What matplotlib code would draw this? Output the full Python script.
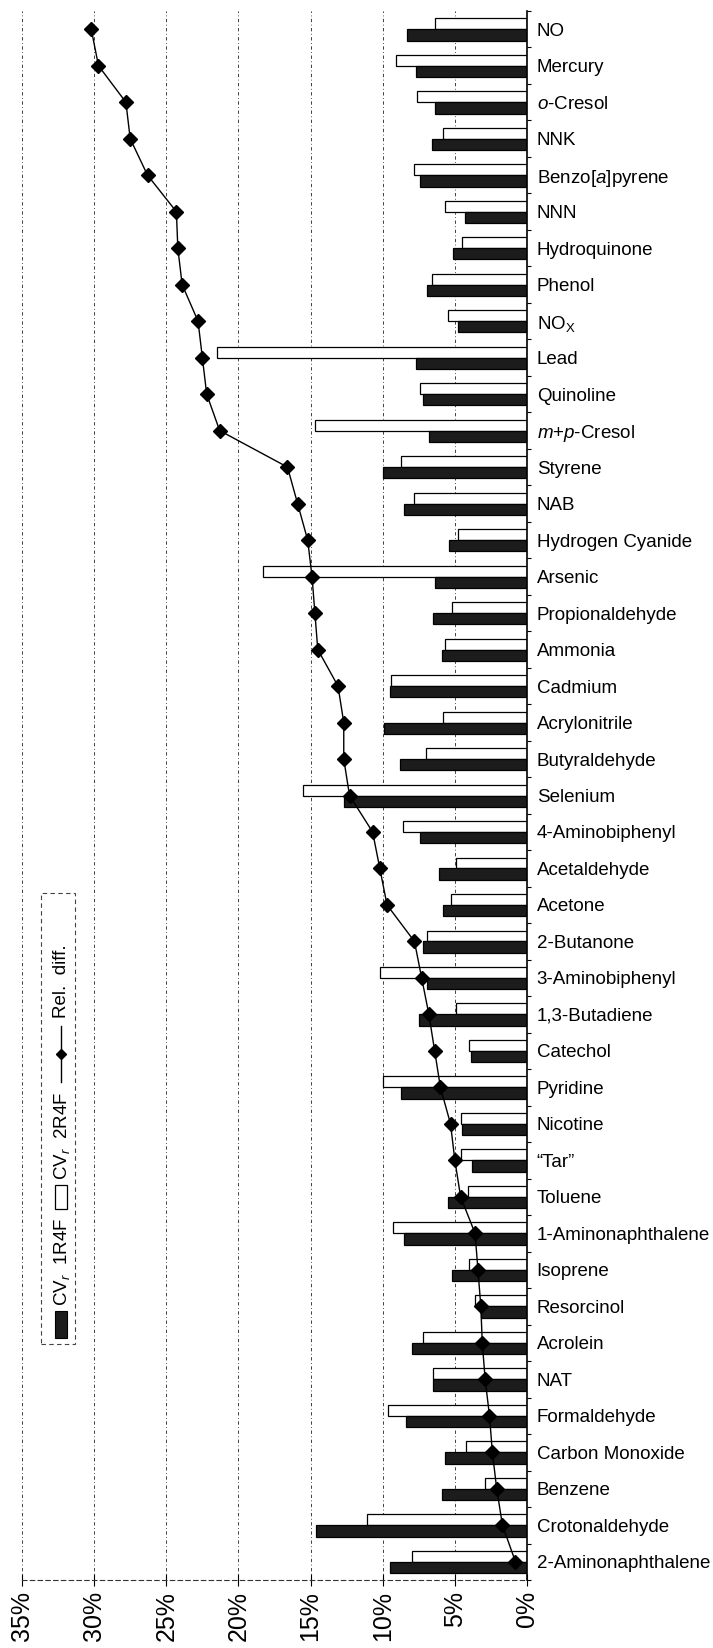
import numpy as np
import matplotlib
matplotlib.use("Agg")
import matplotlib.pyplot as plt
from matplotlib.patches import Rectangle
from matplotlib.lines import Line2D

plt.rcParams['font.family'] = ['Liberation Sans', 'DejaVu Sans']
plt.rcParams['mathtext.fontset'] = 'custom'
plt.rcParams['mathtext.rm'] = 'Liberation Sans'
plt.rcParams['mathtext.it'] = 'Liberation Sans:italic'

# data (percent), top to bottom as in the picture
compounds = ["NO", "Mercury", "$o$-Cresol", "NNK", "Benzo[$a$]pyrene", "NNN",
             "Hydroquinone", "Phenol", "NO$_\\mathrm{X}$", "Lead", "Quinoline",
             "$m$+$p$-Cresol", "Styrene", "NAB", "Hydrogen Cyanide", "Arsenic",
             "Propionaldehyde", "Ammonia", "Cadmium", "Acrylonitrile", "Butyraldehyde",
             "Selenium", "4-Aminobiphenyl", "Acetaldehyde", "Acetone", "2-Butanone",
             "3-Aminobiphenyl", "1,3-Butadiene", "Catechol", "Pyridine", "Nicotine",
             "\u201cTar\u201d", "Toluene", "1-Aminonaphthalene", "Isoprene", "Resorcinol",
             "Acrolein", "NAT", "Formaldehyde", "Carbon Monoxide", "Benzene",
             "Crotonaldehyde", "2-Aminonaphthalene"]

cv_1r4f = [8.3, 7.7, 6.4, 6.6, 7.4, 4.3, 5.1, 6.9, 4.8, 7.7, 7.2,
           6.8, 10.0, 8.5, 5.4, 6.4, 6.5, 5.9, 9.5, 9.9, 8.8,
           12.7, 7.4, 6.1, 5.8, 7.2, 6.9, 7.5, 3.9, 8.7, 4.5,
           3.8, 5.5, 8.5, 5.2, 3.2, 8.0, 6.5, 8.4, 5.7, 5.9,
           14.6, 9.5]

cv_2r4f = [6.4, 9.1, 7.6, 5.8, 7.8, 5.7, 4.5, 6.6, 5.5, 21.5, 7.4,
           14.7, 8.7, 7.8, 4.8, 18.3, 5.2, 5.7, 9.4, 5.8, 7.0,
           15.5, 8.6, 4.9, 5.3, 6.9, 10.2, 4.9, 4.0, 10.0, 4.6,
           4.6, 4.1, 9.3, 4.0, 3.6, 7.2, 6.5, 9.6, 4.2, 2.9,
           11.1, 8.0]

rel_diff = [30.2, 29.7, 27.8, 27.5, 26.3, 24.3, 24.2, 23.9, 22.8, 22.5, 22.2,
            21.3, 16.6, 15.9, 15.2, 14.9, 14.7, 14.5, 13.1, 12.7, 12.7,
            12.3, 10.7, 10.2, 9.7, 7.8, 7.3, 6.8, 6.4, 6.0, 5.3,
            5.0, 4.6, 3.6, 3.4, 3.2, 3.1, 2.9, 2.6, 2.4, 2.1,
            1.7, 0.8]

legend_labels = ["CV$_r$  1R4F", "CV$_r$  2R4F", "Rel.  diff."]

x_ticks = [0, 5, 10, 15, 20, 25, 30, 35]

W, H = 713, 1648


def fx(px):
    return px / W


def fy(py):
    return 1 - py / H


fig = plt.figure(figsize=(W / 100, H / 100), dpi=100)
ax = fig.add_axes([fx(22), fy(1580), (527 - 22) / W, (1580 - 11) / H])

y = np.arange(len(compounds))
ax.barh(y - 0.15, cv_2r4f, height=0.30, color="white", edgecolor="black",
        linewidth=0.9, zorder=2)
ax.barh(y + 0.155, cv_1r4f, height=0.31, color="#1c1c1c", edgecolor="black",
        linewidth=0.9, zorder=2)
ax.plot(rel_diff, y, color="black", linewidth=1.0, marker="D", markersize=7.5,
        zorder=4)

ax.set_xlim(35, 0)
ax.set_ylim(len(compounds) - 0.5, -0.5)

ax.set_xticks(x_ticks)
ax.set_xticklabels([f"{v}%" for v in x_ticks], rotation=90, fontsize=18)
ax.tick_params(axis="x", direction="inout", length=8, width=0.8, pad=4)
ax.xaxis.grid(True, linestyle=(0, (4, 3, 1, 3)), color="#222222", linewidth=0.6)
ax.set_axisbelow(True)

ax.yaxis.tick_right()
ax.set_yticks(y)
ax.set_yticklabels(compounds, fontsize=13.5)
ax.tick_params(axis="y", which="major", length=0, pad=7)
ax.set_yticks(np.arange(-0.5, len(compounds)), minor=True)
ax.tick_params(axis="y", which="minor", direction="out", length=3, width=0.8)

for s in ["top", "left"]:
    ax.spines[s].set_visible(False)
ax.spines["right"].set_linewidth(1.2)
ax.spines["bottom"].set_linestyle((0, (4, 3)))
ax.spines["bottom"].set_linewidth(0.8)
ax.spines["bottom"].set_color("#333333")

# legend, drawn rotated like the rest of the chart (bottom to top)
fig.canvas.draw()
renderer = fig.canvas.get_renderer()


def legend_text(py_bottom, s):
    t = fig.text(fx(62), fy(py_bottom), s, rotation=90, ha="center", va="bottom",
                 fontsize=13.5, zorder=6)
    h = t.get_window_extent(renderer).height
    return py_bottom - h


cur = 1338
fig.add_artist(Rectangle((fx(55), fy(cur)), 12 / W, 27 / H,
                         transform=fig.transFigure, facecolor="#1c1c1c",
                         edgecolor="black", linewidth=0.8, zorder=6))
cur -= 27 + 5
cur = legend_text(cur, legend_labels[0])
cur -= 8
fig.add_artist(Rectangle((fx(55), fy(cur)), 12 / W, 24 / H,
                         transform=fig.transFigure, facecolor="white",
                         edgecolor="black", linewidth=0.9, zorder=6))
cur -= 24 + 5
cur = legend_text(cur, legend_labels[1])
cur -= 10
fig.add_artist(Line2D([fx(61), fx(61)], [fy(cur), fy(cur - 56)], color="black",
                      linewidth=1.0, transform=fig.transFigure, zorder=6))
fig.add_artist(Line2D([fx(61)], [fy(cur - 28)], color="black", marker="D",
                      markersize=5, transform=fig.transFigure, zorder=6))
cur -= 56 + 8
cur = legend_text(cur, legend_labels[2])
top = min(cur - 14, 893)
fig.add_artist(Rectangle((fx(41), fy(1344)), (75 - 41) / W, (1344 - top) / H,
                         transform=fig.transFigure, facecolor="white",
                         edgecolor="#444444", linewidth=0.8, linestyle=(0, (4, 3)),
                         zorder=5))

fig.savefig("out.png", dpi=100)
